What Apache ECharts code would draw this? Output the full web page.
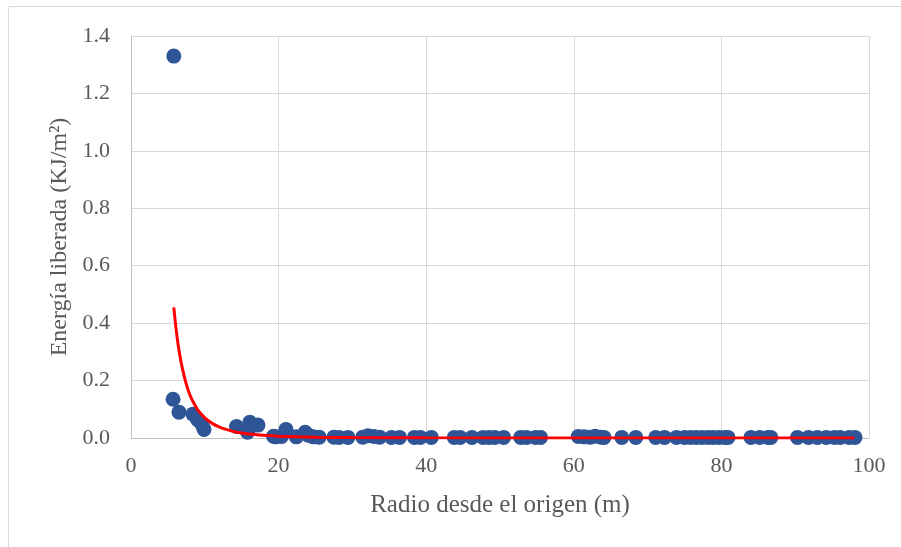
<!DOCTYPE html>
<html>
<head>
<meta charset="utf-8">
<script src="https://cdn.jsdelivr.net/npm/echarts@6/dist/echarts.min.js"></script>
<style>
html,body{margin:0;padding:0;background:#fff;}
#chart{width:901px;height:547px;}
</style>
</head>
<body>
<div id="chart"></div>
<script>
// Observed points: radius (m) and released energy (KJ/m²)
const radius = [5.8, 5.7, 6.5, 8.4, 9.0, 9.6, 9.9, 14.3, 15.8, 16.1, 17.2,
  19.3, 19.6, 20.4, 21.0, 22.4, 23.6, 24.0, 24.7, 25.5, 27.5, 28.2, 29.4,
  31.4, 32.1, 32.9, 33.7, 35.3, 36.4, 38.4, 39.2, 40.7,
  43.8, 44.6, 46.2, 47.7, 48.5, 49.3, 50.5, 52.8, 53.6, 54.8, 55.5,
  60.6, 61.4, 62.2, 62.9, 63.7, 64.1, 66.5, 68.4,
  71.1, 72.3, 73.9, 75.0, 75.8, 76.6, 77.4, 78.2, 78.9, 79.7, 80.5, 80.9,
  84.0, 85.2, 86.3, 86.7, 90.3, 91.8, 93.0, 94.2, 95.3, 96.1, 97.3, 98.1];
const energy = [1.33, 0.135, 0.09, 0.083, 0.065, 0.048, 0.03, 0.04, 0.02, 0.055, 0.045,
  0.006, 0.004, 0.005, 0.03, 0.004, 0.02, 0.01, 0.004, 0.003, 0.003, 0.002, 0.002,
  0.003, 0.008, 0.005, 0.003, 0.002, 0.002, 0.002, 0.002, 0.002,
  0.002, 0.002, 0.002, 0.002, 0.002, 0.002, 0.002, 0.002, 0.002, 0.002, 0.002,
  0.005, 0.004, 0.003, 0.006, 0.003, 0.002, 0.002, 0.002,
  0.002, 0.002, 0.002, 0.002, 0.002, 0.002, 0.002, 0.002, 0.002, 0.002, 0.002, 0.002,
  0.002, 0.002, 0.002, 0.002, 0.002, 0.002, 0.002, 0.002, 0.002, 0.002, 0.002, 0.002];

// Trend line, values
const trendX = [5.8, 6.2, 6.6, 7.0, 7.5, 8.0, 8.5, 9.0, 10, 11, 12, 13, 14, 16, 18, 20, 25, 30, 40, 60, 80, 98];
const trendY = [0.455, 0.36, 0.29, 0.238, 0.187, 0.149, 0.122, 0.100, 0.070, 0.051, 0.038, 0.029, 0.022, 0.014, 0.0095, 0.0065, 0.003, 0.0016, 0.0006, 0.0002, 0.0001, 0.00004];

const xTicks = [0, 20, 40, 60, 80, 100];
const yTicks = [0.0, 0.2, 0.4, 0.6, 0.8, 1.0, 1.2, 1.4];

const xTitle = 'Radio desde el origen (m)';
const yTitle = 'Energía liberada (KJ/m²)';

const scatterData = radius.map((r, i) => [r, energy[i]]);
const trendData = trendX.map((x, i) => [x, trendY[i]]);

const font = '"Liberation Serif", "Times New Roman", serif';
const chart = echarts.init(document.getElementById('chart'), null, {renderer: 'canvas'});
chart.setOption({
  animation: false,
  backgroundColor: '#ffffff',
  graphic: [{
    type: 'rect',
    shape: {x: 8.5, y: 6.5, width: 900, height: 600},
    style: {fill: 'none', stroke: '#d9d9d9', lineWidth: 1},
    silent: true
  }],
  grid: {left: 131, right: 32, top: 36, bottom: 109, containLabel: false},
  xAxis: {
    type: 'value',
    min: xTicks[0], max: xTicks[xTicks.length - 1], interval: 20,
    name: xTitle, nameLocation: 'middle', nameGap: 55,
    nameTextStyle: {fontFamily: font, fontSize: 25, color: '#595959'},
    axisLine: {show: true, lineStyle: {color: '#bfbfbf', width: 1}},
    axisTick: {show: false},
    axisLabel: {fontFamily: font, fontSize: 22, color: '#595959', margin: 17},
    splitLine: {show: true, lineStyle: {color: '#d9d9d9', width: 1}}
  },
  yAxis: {
    type: 'value',
    min: yTicks[0], max: yTicks[yTicks.length - 1], interval: 0.2,
    name: yTitle, nameLocation: 'middle', nameGap: 57,
    nameTextStyle: {fontFamily: font, fontSize: 24, color: '#595959'},
    axisLine: {show: true, lineStyle: {color: '#bfbfbf', width: 1}},
    axisTick: {show: false},
    axisLabel: {fontFamily: font, fontSize: 22, color: '#595959', margin: 21,
      formatter: v => v.toFixed(1)},
    splitLine: {show: true, lineStyle: {color: '#d9d9d9', width: 1}}
  },
  series: [
    {
      type: 'scatter',
      data: scatterData,
      symbol: 'circle',
      symbolSize: 15,
      itemStyle: {color: '#2F5597', opacity: 1},
      z: 2
    },
    {
      type: 'line',
      data: trendData,
      smooth: 0.3,
      showSymbol: false,
      lineStyle: {color: '#FF0000', width: 3},
      z: 3
    }
  ]
});
</script>
</body>
</html>
